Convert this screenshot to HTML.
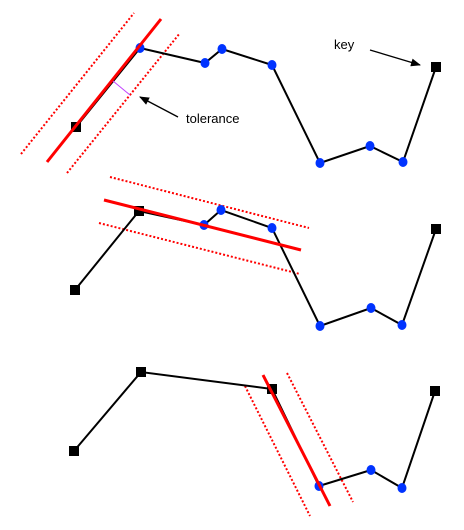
<!DOCTYPE html>
<html><head><meta charset="utf-8"><style>
html,body{margin:0;padding:0;background:#fff;width:464px;height:530px;overflow:hidden}
svg text{font-family:"Liberation Sans",sans-serif;font-size:13px;fill:#000}
</style></head><body>
<svg id="c" width="464" height="530" viewBox="0 0 464 530">
<defs><marker id="ah" markerWidth="10" markerHeight="8" refX="9" refY="4" orient="auto" markerUnits="userSpaceOnUse"><path d="M0,0 L10,4 L0,8 z" fill="#000"/></marker></defs>
</svg>
<script>
const xs1=[76,140,205,222,272,320,370,403,436];
const ys1=[127,48,63,49,65,163,146,162,67];
const keys1=[1,0,0,0,0,0,0,0,1];
const xs2=[75,139,204,221,272,320,371,402,436];
const ys2=[290,211,225,210,228,326,308,325,229];
const keys2=[1,1,0,0,0,0,0,0,1];
const xs3=[74,141,272,319,371,402,435];
const ys3=[451,372,389,486,470,488,391];
const keys3=[1,1,1,0,0,0,1];
const svg=document.getElementById('c');
const NS='http://www.w3.org/2000/svg';
function mk(t,a){const e=document.createElementNS(NS,t);for(const k in a)e.setAttribute(k,a[k]);svg.appendChild(e);return e;}
function seg(x1,y1,x2,y2,st,w,dash,name){const e=mk('line',{x1,y1,x2,y2,stroke:st,'stroke-width':w});if(dash)e.setAttribute('stroke-dasharray',dash);

return e;}
function poly(xs,ys,ks,p){
 const l=mk('polyline',{points:xs.map((x,i)=>x+','+ys[i]).join(' '),fill:'none',stroke:'#000','stroke-width':2});
 
 
 xs.forEach((x,i)=>{let e;
  if(ks[i]){e=mk('rect',{x:x-5,y:ys[i]-5,width:10,height:10,fill:'#000'});
   }
  else{e=mk('ellipse',{cx:x,cy:ys[i],rx:4.5,ry:5,fill:'#0033ff'});
   }
  });
}
// panel 1
seg(21,154,134,13,'#f00',2,'2,2','tolerance-bound');
seg(67,173,180,33,'#f00',2,'2,2','tolerance-bound');
poly(xs1,ys1,keys1,1);
seg(47,162,161,19,'#f00',3,null,'simplification-line');
seg(113,81,130,95,'#c040ff',1,null,'tolerance-measure');
seg(178,117,140,97,'#000',1.3,null,'tolerance-arrow').setAttribute('marker-end','url(#ah)');
seg(370,50,420,65,'#000',1.3,null,'key-arrow').setAttribute('marker-end','url(#ah)');
let t=mk('text',{x:186,y:123});t.textContent='tolerance';


t=mk('text',{x:334,y:49});t.textContent='key';


// panel 2
seg(110,177,309,228,'#f00',2,'2,2','tolerance-bound');
seg(99,223,300,274,'#f00',2,'2,2','tolerance-bound');
poly(xs2,ys2,keys2,2);
seg(104,200,301,250,'#f00',3,null,'simplification-line');
// panel 3
seg(245,386,310,516,'#f00',2,'2,2','tolerance-bound');
seg(287,373,353,502,'#f00',2,'2,2','tolerance-bound');
poly(xs3,ys3,keys3,3);
seg(263,375,330,506,'#f00',3,null,'simplification-line');
</script>
</body></html>
